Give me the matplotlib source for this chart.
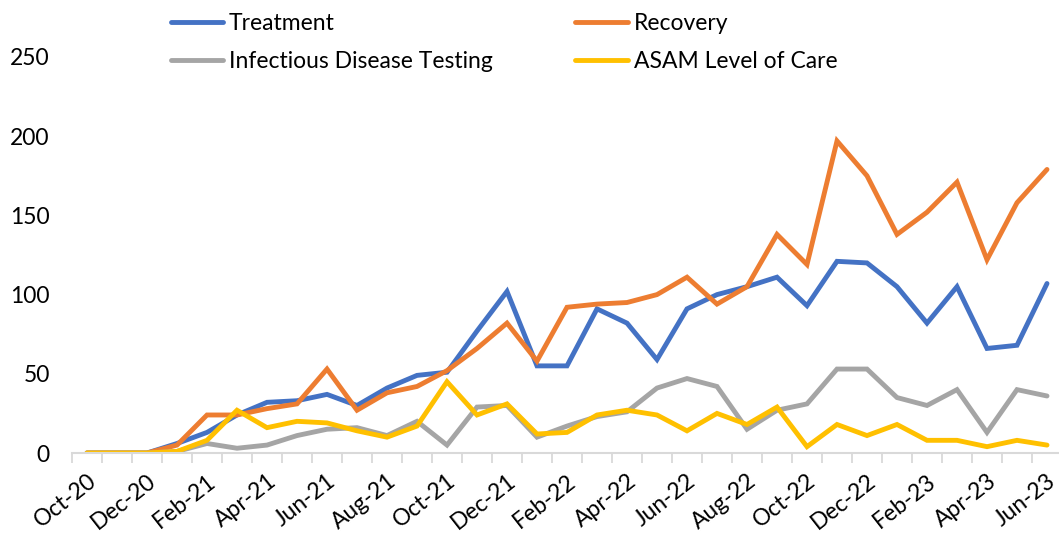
import matplotlib.pyplot as plt
import numpy as np

months = [
    "Oct-20", "Nov-20", "Dec-20", "Jan-21", "Feb-21", "Mar-21", "Apr-21", "May-21",
    "Jun-21", "Jul-21", "Aug-21", "Sep-21", "Oct-21", "Nov-21", "Dec-21", "Jan-22",
    "Feb-22", "Mar-22", "Apr-22", "May-22", "Jun-22", "Jul-22", "Aug-22", "Sep-22",
    "Oct-22", "Nov-22", "Dec-22", "Jan-23", "Feb-23", "Mar-23", "Apr-23", "May-23",
    "Jun-23",
]
treatment = [0, 0, 0, 6, 13, 24, 32, 33, 37, 30, 41, 49, 51, 77, 102, 55, 55,
             91, 82, 59, 91, 100, 105, 111, 93, 121, 120, 105, 82, 105, 66, 68, 107]
recovery = [0, 0, 0, 5, 24, 24, 28, 31, 53, 27, 38, 42, 52, 66, 82, 58, 92,
            94, 95, 100, 111, 94, 105, 138, 119, 197, 175, 138, 152, 171, 122, 158, 179]
testing = [0, 0, 0, 1, 6, 3, 5, 11, 15, 16, 11, 20, 5, 29, 30, 10, 17,
           23, 26, 41, 47, 42, 15, 27, 31, 53, 53, 35, 30, 40, 13, 40, 36]
asam = [0, 0, 0, 1, 8, 27, 16, 20, 19, 14, 10, 17, 45, 24, 31, 12, 13,
        24, 27, 24, 14, 25, 18, 29, 4, 18, 11, 18, 8, 8, 4, 8, 5]

series = [
    ("Treatment", treatment, "#4472C4"),
    ("Recovery", recovery, "#ED7D31"),
    ("Infectious Disease Testing", testing, "#A5A5A5"),
    ("ASAM Level of Care", asam, "#FFC000"),
]

plt.rcParams["font.family"] = ["Lato", "DejaVu Sans"]

fig = plt.figure(figsize=(10.59, 5.34), dpi=100)
ax = fig.add_axes([72 / 1059, 81 / 534, 990 / 1059, 396 / 534])

x = np.arange(len(months))
lines = []
for label, values, color in series:
    ln, = ax.plot(x, values, color=color, lw=3.5, label=label,
                  solid_capstyle="round", solid_joinstyle="miter")
    lines.append(ln)

ax.set_xlim(-0.5, len(months) - 0.5)
ax.set_ylim(0, 250)
ax.set_yticks([0, 50, 100, 150, 200, 250])
ax.tick_params(axis="y", length=0, pad=16, labelsize=16.5, labelcolor="#000000")

ax.set_xticks(x[::2])
ax.set_xticklabels(months[::2], rotation=38, ha="right", rotation_mode="anchor",
                   fontsize=16.5)
ax.tick_params(axis="x", which="major", length=0, pad=12.5)
ax.set_xticks(np.arange(-0.5, len(months), 1), minor=True)
ax.tick_params(axis="x", which="minor", length=7, width=1.3, color="#D9D9D9")

for side in ["top", "right", "left"]:
    ax.spines[side].set_visible(False)
ax.spines["bottom"].set_color("#D9D9D9")
ax.spines["bottom"].set_linewidth(1.5)

# legend fills column by column, so order it to read across rows
order = [0, 2, 1, 3]
fig.legend(handles=[lines[i] for i in order], ncol=2, loc="upper left",
           bbox_to_anchor=(150 / 1059, 1.015), frameon=False, fontsize=16.5,
           handlelength=2.3, handletextpad=0.25, columnspacing=3.6,
           labelspacing=0.78)

fig.savefig("out.png", dpi=100)
